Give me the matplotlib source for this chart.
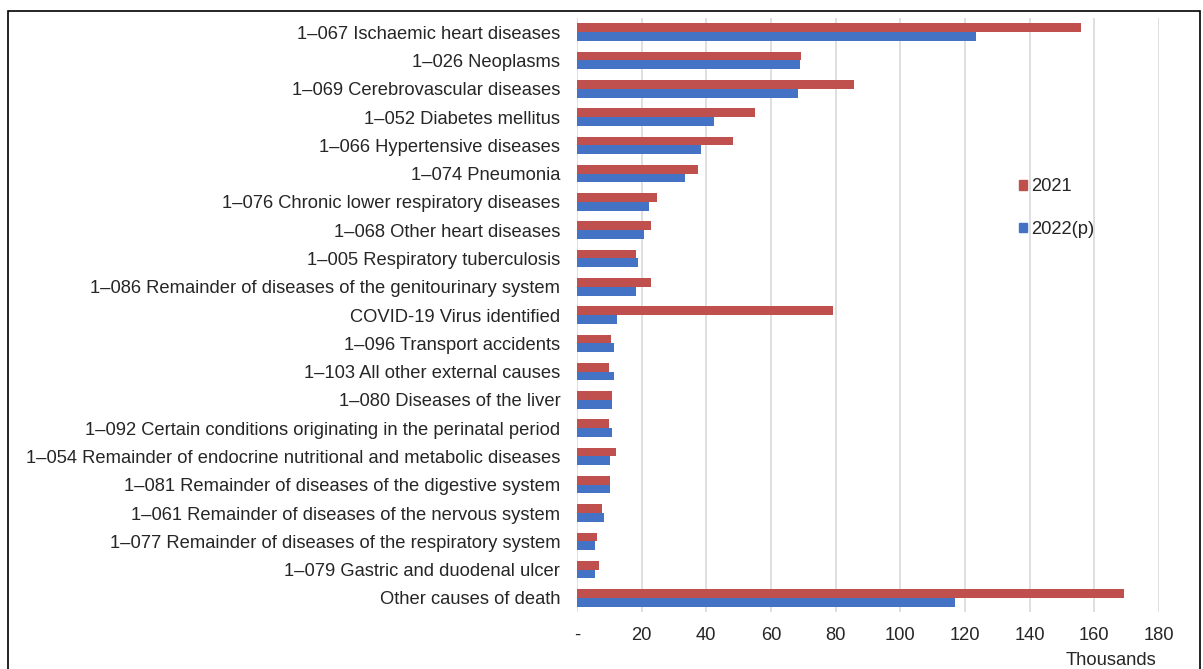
import numpy as np
import matplotlib
matplotlib.use("Agg")
from matplotlib import pyplot as plt
from matplotlib.patches import Rectangle, Patch

categories = [
    "1\u2013067 Ischaemic heart diseases",
    "1\u2013026 Neoplasms",
    "1\u2013069 Cerebrovascular diseases",
    "1\u2013052 Diabetes mellitus",
    "1\u2013066 Hypertensive diseases",
    "1\u2013074 Pneumonia",
    "1\u2013076 Chronic lower respiratory diseases",
    "1\u2013068 Other heart diseases",
    "1\u2013005 Respiratory tuberculosis",
    "1\u2013086 Remainder of diseases of the genitourinary system",
    "COVID-19 Virus identified",
    "1\u2013096 Transport accidents",
    "1\u2013103 All other external causes",
    "1\u2013080 Diseases of the liver",
    "1\u2013092 Certain conditions originating in the perinatal period",
    "1\u2013054 Remainder of endocrine nutritional and metabolic diseases",
    "1\u2013081 Remainder of diseases of the digestive system",
    "1\u2013061 Remainder of diseases of the nervous system",
    "1\u2013077 Remainder of diseases of the respiratory system",
    "1\u2013079 Gastric and duodenal ulcer",
    "Other causes of death",
]

# thousands of deaths
deaths_2021 = [155.9, 69.3, 85.7, 55.2, 48.3, 37.5, 24.7, 23.0, 18.3, 23.0,
               79.3, 10.6, 9.8, 10.9, 10.0, 12.1, 10.3, 7.8, 6.2, 6.9, 169.3]
deaths_2022 = [123.4, 68.9, 68.5, 42.3, 38.5, 33.3, 22.2, 20.8, 18.8, 18.3,
               12.3, 11.4, 11.4, 10.9, 10.8, 10.3, 10.3, 8.3, 5.7, 5.7, 117.0]

xticks = [0, 20, 40, 60, 80, 100, 120, 140, 160, 180]
xtick_labels = ["-", "20", "40", "60", "80", "100", "120", "140", "160", "180"]

red = "#C0504D"
blue = "#4472C4"
fs = 13.2

plt.rcParams['font.family'] = ['Liberation Sans', 'DejaVu Sans']

fig = plt.figure(figsize=(12.03, 6.69), dpi=100)
ax = fig.add_axes([0.4796, 0.0852, 0.9634 - 0.4796, 0.973 - 0.0852])

y = np.arange(len(categories))
h = 0.31
ax.barh(y - h / 2, deaths_2021, height=h, color=red, label="2021", zorder=3)
ax.barh(y + h / 2, deaths_2022, height=h, color=blue, label="2022(p)", zorder=3)

ax.set_ylim(len(categories) - 0.5, -0.5)
ax.set_xlim(0, 180)
ax.set_yticks(y)
ax.set_yticklabels(categories, fontsize=fs, color="#262626")
ax.set_xticks(xticks)
ax.set_xticklabels(xtick_labels, fontsize=fs, color="#262626")
ax.tick_params(axis='x', length=0, pad=11)
ax.tick_params(axis='y', length=0, pad=12)
ax.xaxis.grid(True, color="#D9D9D9", lw=1.2, zorder=0)
for s in ax.spines.values():
    s.set_visible(False)

handles = [Patch(color=red), Patch(color=blue)]
fig.legend(handles, ["2021", "2022(p)"], loc="upper left",
           bbox_to_anchor=(0.833, 0.758), frameon=False, fontsize=fs,
           handlelength=0.45, handleheight=0.45, handletextpad=0.25,
           labelspacing=1.4, labelcolor="#262626")

fig.text(0.961, 0.0, "Thousands", ha="right", va="bottom", fontsize=fs,
         color="#262626")

fig.patches.append(Rectangle((8 / 1203, -0.1), (1200 - 8) / 1203, 1.1 - 11 / 669,
                             transform=fig.transFigure, fill=False,
                             edgecolor="black", lw=1.2))

fig.savefig("out.png", dpi=100)
